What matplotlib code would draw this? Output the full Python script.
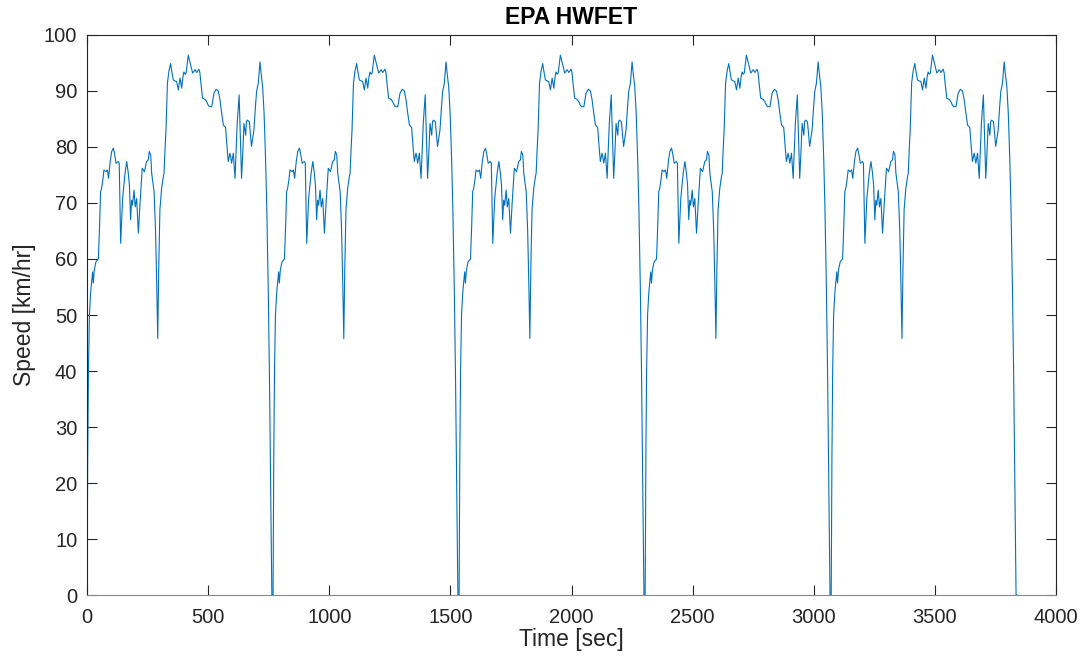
import numpy as np
import matplotlib
matplotlib.use("Agg")
import matplotlib.pyplot as plt

# one HWFET cycle: time [s], speed [km/h]
cycle_time = [0, 3, 6, 10, 15, 23, 26, 30, 37, 47, 52, 56, 60, 65, 70, 78, 84, 89,
              96, 102, 109, 115, 120, 129, 133, 136, 139, 143, 147, 152, 157, 164,
              170, 175, 180, 184, 188, 191, 194, 199, 205, 212, 219, 228, 237, 246,
              253, 257, 263, 267, 277, 283, 288, 292, 296, 301, 308, 315, 318, 322,
              326, 332, 338, 345, 350, 356, 363, 370, 374, 377, 384, 391, 396, 400,
              405, 409, 418, 423, 428, 436, 441, 446, 453, 462, 466, 470, 477, 487,
              494, 500, 505, 515, 520, 524, 533, 542, 549, 556, 563, 572, 578, 583,
              590, 594, 597, 604, 611, 616, 620, 628, 633, 638, 643, 648, 655, 658,
              662, 670, 675, 679, 684, 689, 695, 700, 707, 714, 719, 725, 731, 737,
              742, 748, 753, 758, 763, 767]
cycle_speed = [0, 25, 40, 50, 54, 57.7, 55.7, 58, 59.5, 60, 66, 72, 72.6, 74, 75.9,
               75.6, 75.9, 74.4, 77.5, 79.2, 79.8, 78.5, 77.1, 77.4, 77.1, 70, 62.8,
               67, 70.8, 73, 75.3, 77.4, 75.5, 73.2, 67, 70.5, 69.6, 71, 72.3, 69.3,
               70.8, 64.6, 70, 76.2, 75.6, 77.4, 77.7, 79.2, 78.6, 75.3, 72, 65, 55,
               45.8, 58, 68.8, 72.6, 74.7, 75.3, 79.5, 83, 91.4, 93.5, 94.9, 93.5, 92,
               91.8, 91.7, 90.8, 90.2, 92.3, 90.5, 92.5, 93.4, 93.0, 93.2, 96.4, 95.5,
               94.6, 93.2, 93.5, 93.8, 93.3, 93.9, 93.3, 91.5, 88.7, 88.5, 88.1, 87.5,
               87.2, 87.2, 88.5, 89.6, 90.3, 90, 88.4, 86, 83.9, 83.5, 80, 77.4, 78.9,
               78, 77.1, 78.9, 74.4, 80, 84.2, 89.3, 82, 74.4, 79, 84.2, 82.1, 84.5,
               84.8, 84.5, 82, 80.1, 81.5, 83, 87, 89.9, 91.4, 95.2, 93, 90.8, 86, 78,
               69.3, 55, 39.6, 20, 0, 0]
cycle_length = 768
n_cycles = 5

time = np.concatenate([np.array(cycle_time) + k * cycle_length for k in range(n_cycles)])
speed = np.tile(cycle_speed, n_cycles)

plt.rcParams['font.family'] = ['Liberation Sans', 'DejaVu Sans']
axis_color = '#262626'

fig = plt.figure(figsize=(10.82, 6.64), dpi=100)
ax = fig.add_axes([0.0804, 0.1039, 0.8956, 0.8434])
ax.plot(time, speed, color='#0072BD', linewidth=0.8)

ax.set_xlim(0, 4000)
ax.set_ylim(0, 100)
ax.set_xticks(np.arange(0, 4001, 500))
ax.set_yticks(np.arange(0, 101, 10))
ax.tick_params(direction='in', length=7, width=0.8, top=True, right=True,
               labelsize=14.5, colors=axis_color)
ax.tick_params(axis='x', pad=9)
ax.tick_params(axis='y', pad=7)
for s in ax.spines.values():
    s.set_color(axis_color)
    s.set_linewidth(0.8)
ax.spines['bottom'].set_color('#8a8a8a')

ax.set_title('EPA HWFET', fontsize=16.5, fontweight='bold', color='black', pad=8)
ax.set_xlabel('Time [sec]', fontsize=16.5, color=axis_color, labelpad=1)
ax.set_ylabel('Speed [km/hr]', fontsize=16.5, color=axis_color, labelpad=6)

fig.savefig('out.png', dpi=100)
